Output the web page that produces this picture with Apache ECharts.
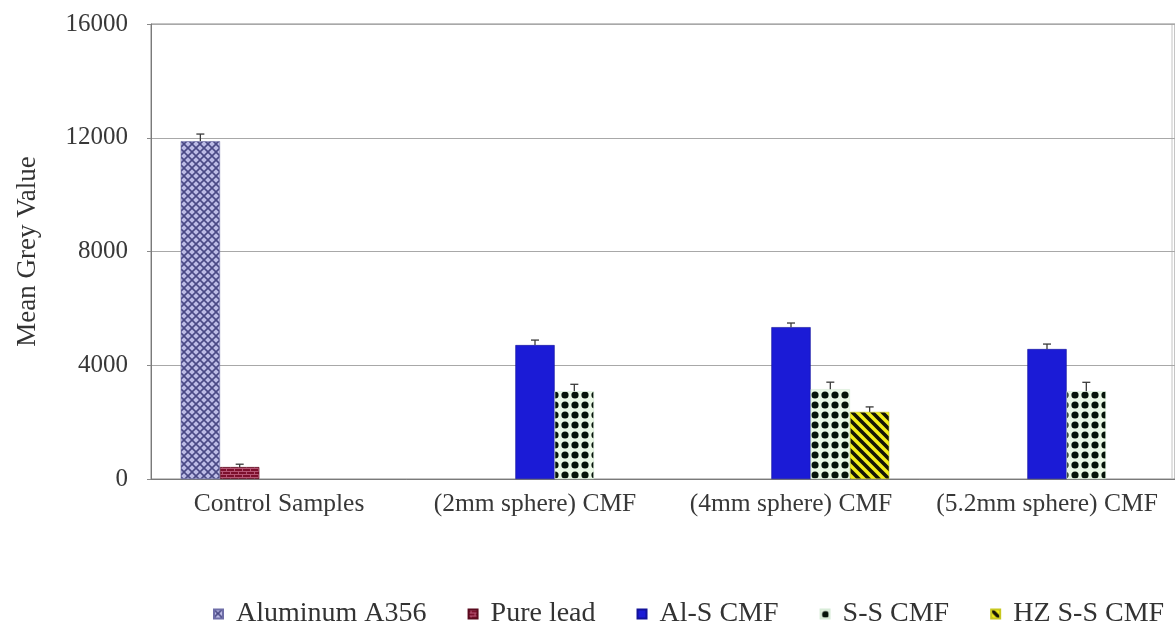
<!DOCTYPE html>
<html>
<head>
<meta charset="utf-8">
<style>
  html, body { margin: 0; padding: 0; background: #ffffff; overflow: hidden; }
  #chart { width: 1175px; height: 629px; }
</style>
<script src="https://cdn.jsdelivr.net/npm/echarts@6/dist/echarts.min.js"></script>
</head>
<body>
<div id="chart"></div>
<script>
// Sample groups along the x axis
const categories = ['Control Samples', '(2mm sphere) CMF', '(4mm sphere) CMF', '(5.2mm sphere) CMF'];
// Y axis range
const yTicks = [0, 4000, 8000, 12000, 16000];

// Mean grey value per group, one array per material
const aluminumA356 = [11880, null, null, null];
const pureLead     = [420, null, null, null];
const alS_CMF      = [null, 4710, 5340, 4570];
const sS_CMF       = [null, 3090, 3160, 3090];
const hzSS_CMF     = [null, null, 2360, null];

// Standard deviation (upper error bar) for each value above
const aluminumA356Err = [250, null, null, null];
const pureLeadErr     = [100, null, null, null];
const alS_CMFErr      = [null, 175, 145, 175];
const sS_CMFErr       = [null, 240, 245, 310];
const hzSS_CMFErr     = [null, null, 175, null];

const seriesNames = ['Aluminum A356', 'Pure lead', 'Al-S CMF', 'S-S CMF', 'HZ S-S CMF'];

// ---- fill patterns -------------------------------------------------
function makeTile(w, h, draw) {
  const c = document.createElement('canvas');
  c.width = w; c.height = h;
  draw(c.getContext('2d'), w, h);
  return c;
}

const crossHatch = makeTile(8, 8, (g, w, h) => {
  g.fillStyle = '#bdbce6';
  g.fillRect(0, 0, w, h);
  g.strokeStyle = '#4a4985';
  g.lineWidth = 1.6;
  g.beginPath();
  g.moveTo(-1, -1); g.lineTo(w + 1, h + 1);
  g.moveTo(w + 1, -1); g.lineTo(-1, h + 1);
  g.stroke();
});

const brick = makeTile(8, 6, (g, w, h) => {
  g.fillStyle = '#7c0f2c';
  g.fillRect(0, 0, w, h);
  g.fillStyle = '#b55574';
  g.fillRect(0, 0, w, 1);
  g.fillRect(2, 0, 1, 3);
  g.fillRect(6, 3, 1, 3);
  g.fillRect(0, 3, w, 1);
});

const dots = makeTile(10, 10, (g, w, h) => {
  g.fillStyle = '#eaf8e6';
  g.fillRect(0, 0, w, h);
  g.fillStyle = '#06140a';
  g.beginPath();
  g.arc(5, 5, 3.6, 0, Math.PI * 2);
  g.fill();
});

const stripes = makeTile(10, 10, (g, w, h) => {
  g.fillStyle = '#f2ee1a';
  g.fillRect(0, 0, w, h);
  g.strokeStyle = '#151505';
  g.lineWidth = 3.6;
  g.beginPath();
  for (let k = -2; k <= 2; k++) {
    g.moveTo(k * w - 2, -2);
    g.lineTo(k * w + w + 2, h + 2);
  }
  g.stroke();
});

const fills = [
  { image: crossHatch, repeat: 'repeat' },
  { image: brick, repeat: 'repeat' },
  '#1b1bd6',
  { image: dots, repeat: 'repeat' },
  { image: stripes, repeat: 'repeat' }
];
const borders = ['#6f6ea8', '#5a0a1e', '#12129a', '#d8ecd8', '#c8c820'];

const values = [aluminumA356, pureLead, alS_CMF, sS_CMF, hzSS_CMF];
const errors = [aluminumA356Err, pureLeadErr, alS_CMFErr, sS_CMFErr, hzSS_CMFErr];

const CAT_GAP = 0.232;
const N_SERIES = seriesNames.length;

const barSeries = seriesNames.map((name, i) => ({
  name: name,
  type: 'bar',
  data: values[i],
  barGap: '0%',
  barCategoryGap: (CAT_GAP * 100) + '%',
  itemStyle: { color: fills[i], borderColor: borders[i], borderWidth: 0.6 },
  emphasis: { disabled: true },
  z: 2
}));

// error bar data: [category index, mean, sd, series index]
const errData = [];
values.forEach((arr, s) => {
  arr.forEach((v, c) => {
    if (v != null && errors[s][c] != null) errData.push([c, v, errors[s][c], s]);
  });
});

const errorSeries = {
  name: 'sd',
  type: 'custom',
  data: errData,
  z: 5,
  silent: true,
  renderItem: function (params, api) {
    const cat = api.value(0);
    const mean = api.value(1);
    const sd = api.value(2);
    const s = api.value(3);
    const base = api.coord([cat, mean]);
    const top = api.coord([cat, mean + sd]);
    const catW = api.size([1, 0])[0];
    const bw = catW * (1 - CAT_GAP) / N_SERIES;
    const x = base[0] + (s - (N_SERIES - 1) / 2) * bw;
    const cap = 4;
    const st = { stroke: '#3a3a3a', lineWidth: 1.3 };
    return {
      type: 'group',
      children: [
        { type: 'line', shape: { x1: x, y1: base[1], x2: x, y2: top[1] }, style: st },
        { type: 'line', shape: { x1: x - cap, y1: top[1], x2: x + cap, y2: top[1] }, style: st }
      ]
    };
  }
};

const chart = echarts.init(document.getElementById('chart'), null, { renderer: 'canvas' });
chart.setOption({
  animation: false,
  backgroundColor: '#ffffff',
  textStyle: { fontFamily: 'Liberation Serif, Times New Roman, serif' },
  grid: {
    left: 151, right: -4, top: 24, bottom: 150,
    show: true, borderColor: '#8a8a8a', borderWidth: 1
  },
  // right-hand frame edge of the plot area
  graphic: [{
    type: 'line',
    shape: { x1: 1172, y1: 24, x2: 1172, y2: 479 },
    style: { stroke: '#c4c4c4', lineWidth: 1 },
    silent: true
  }],
  legend: {
    data: seriesNames,
    left: 208,
    top: 595,
    itemWidth: 9,
    itemHeight: 9,
    itemGap: 41,
    icon: 'rect',
    selectedMode: false,
    textStyle: { fontSize: 28, color: '#333333', fontFamily: 'Liberation Serif, serif', padding: [0, 0, 0, 8] }
  },
  xAxis: {
    type: 'category',
    data: categories,
    axisLine: { show: true, lineStyle: { color: '#7a7a7a', width: 1 } },
    axisTick: { show: false },
    axisLabel: {
      color: '#383838', fontSize: 25.5, margin: 12,
      fontFamily: 'Liberation Serif, serif', interval: 0
    },
    splitLine: { show: false }
  },
  yAxis: {
    type: 'value',
    min: yTicks[0],
    max: yTicks[yTicks.length - 1],
    interval: yTicks[1] - yTicks[0],
    name: 'Mean Grey Value',
    nameLocation: 'middle',
    nameGap: 110,
    nameTextStyle: { fontSize: 27, color: '#333333', fontFamily: 'Liberation Serif, serif' },
    axisLine: { show: true, lineStyle: { color: '#7a7a7a', width: 1 } },
    axisTick: { show: true, length: 4, inside: false, lineStyle: { color: '#8a8a8a' } },
    axisLabel: {
      color: '#383838', fontSize: 25, margin: 23,
      fontFamily: 'Liberation Serif, serif',
      formatter: (v) => String(v)
    },
    splitLine: { show: true, lineStyle: { color: '#a8a8a8', width: 1.2 } }
  },
  series: barSeries.concat([errorSeries])
});
</script>
</body>
</html>
